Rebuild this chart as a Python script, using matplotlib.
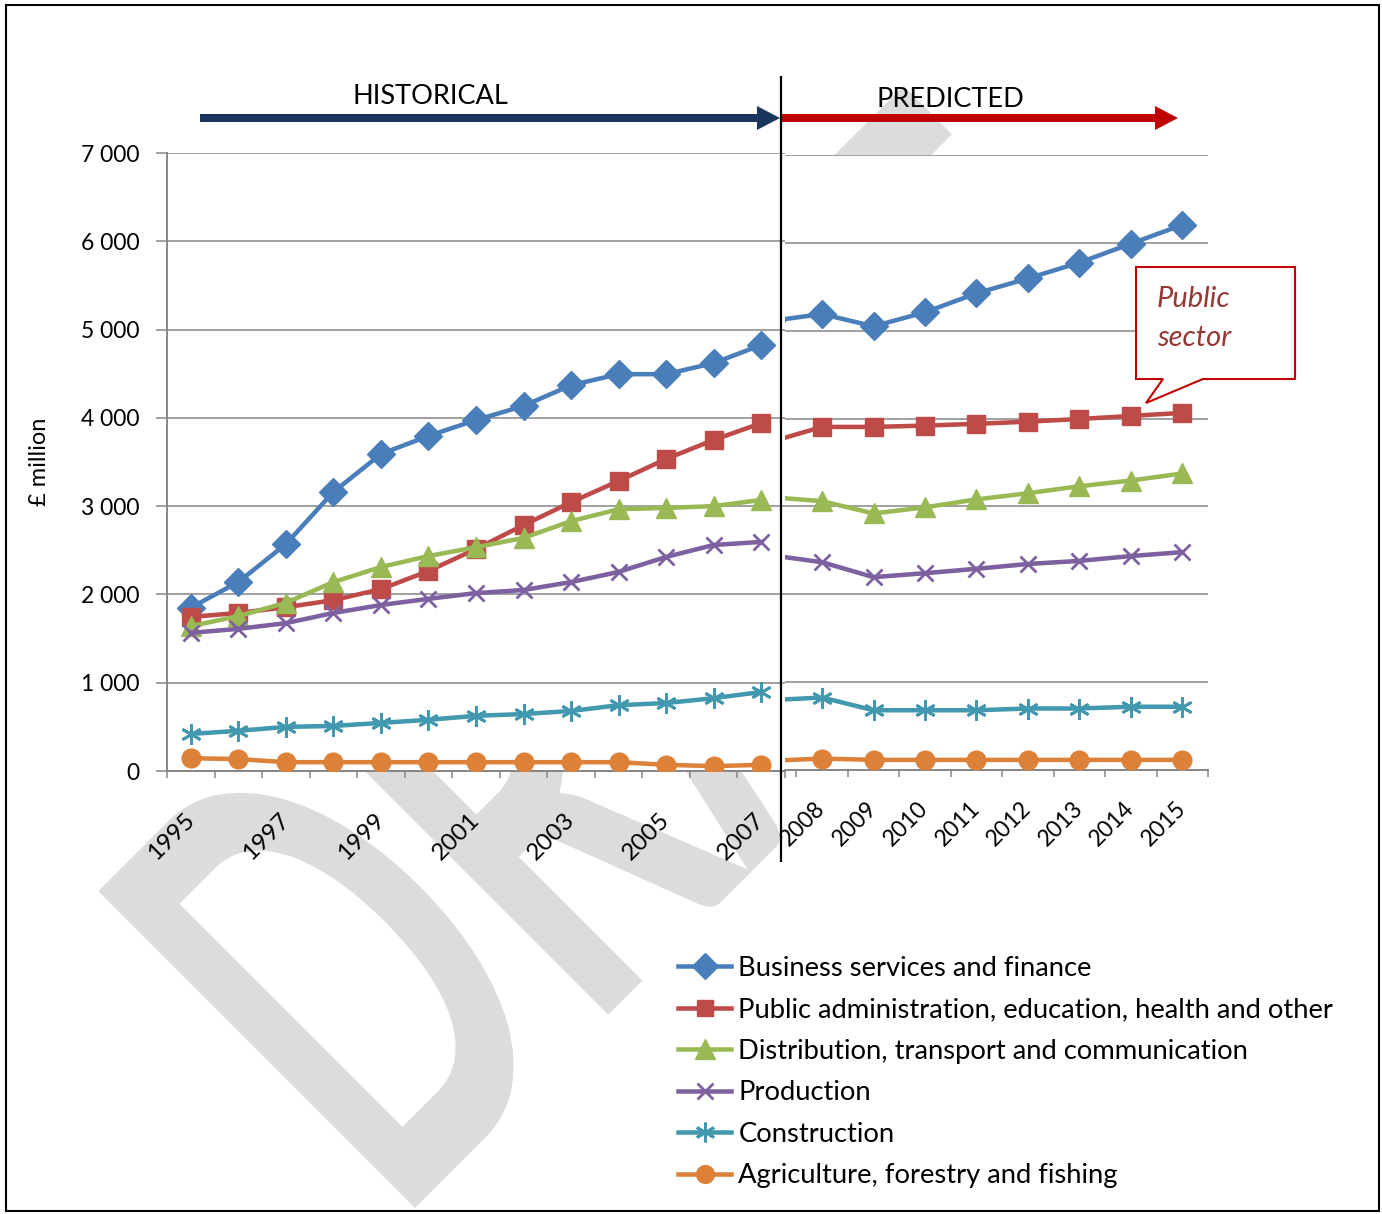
import matplotlib
matplotlib.use('Agg')
import matplotlib.pyplot as plt
from matplotlib.lines import Line2D
from matplotlib.patches import Polygon, PathPatch, FancyArrow, Rectangle
from matplotlib.textpath import TextPath
from matplotlib.font_manager import FontProperties
from matplotlib.transforms import Affine2D

# ---------------- data ----------------
hist_years = [1995, 1996, 1997, 1998, 1999, 2000, 2001, 2002, 2003, 2004, 2005, 2006, 2007]
pred_years = [2007, 2008, 2009, 2010, 2011, 2012, 2013, 2014, 2015]  # 2007 = run-in point at panel edge

series_names = [
    "Business services and finance",
    "Public administration, education, health and other",
    "Distribution, transport and communication",
    "Production",
    "Construction",
    "Agriculture, forestry and fishing",
]

hist_business = [1850, 2140, 2570, 3160, 3590, 3795, 3975, 4135, 4370, 4495, 4495, 4620, 4825]
hist_public = [1745, 1790, 1855, 1935, 2060, 2265, 2515, 2785, 3045, 3285, 3535, 3750, 3940]
hist_distribution = [1640, 1755, 1905, 2140, 2310, 2435, 2535, 2640, 2830, 2965, 2980, 3000, 3070]
hist_production = [1565, 1610, 1675, 1790, 1880, 1950, 2015, 2050, 2140, 2255, 2425, 2560, 2595]
hist_construction = [420, 455, 500, 510, 545, 580, 625, 645, 680, 745, 770, 825, 895]
hist_agriculture = [145, 135, 100, 100, 100, 100, 100, 100, 100, 100, 70, 55, 70]

pred_business = [5110, 5190, 5050, 5210, 5425, 5595, 5775, 5990, 6205]
pred_public = [3735, 3905, 3905, 3920, 3940, 3965, 3995, 4030, 4065]
pred_distribution = [3105, 3060, 2920, 2990, 3080, 3150, 3230, 3295, 3375]
pred_production = [2445, 2365, 2195, 2240, 2290, 2345, 2380, 2435, 2480]
pred_construction = [795, 825, 680, 680, 680, 700, 700, 720, 720]
pred_agriculture = [105, 130, 115, 115, 115, 115, 115, 115, 115]

y_ticks = [0, 1000, 2000, 3000, 4000, 5000, 6000, 7000]
hist_tick_labels = ["1995", "1997", "1999", "2001", "2003", "2005", "2007"]
pred_tick_labels = ["2008", "2009", "2010", "2011", "2012", "2013", "2014", "2015"]

# ---------------- styles ----------------
colors = ['#4A7EBB', '#BE4B48', '#98B954', '#7D60A0', '#4198AF', '#DD8139']
markers = ['D', 's', '^', 'x', (6, 2, 0), 'o']
msizes = [14, 12.5, 15, 12, 15, 13.5]
mews = [1, 1, 1, 2, 2, 1]

W, H = 1382, 1214
FONT = 'Lato'
plt.rcParams['font.family'] = [FONT, 'DejaVu Sans']
GRID = '#868686'

fig = plt.figure(figsize=(W / 100, H / 100), dpi=100)
fig.patch.set_facecolor('white')


def px_axes(x0, y0, x1, y1, **kw):
    return fig.add_axes([x0 / W, 1 - y1 / H, (x1 - x0) / W, (y1 - y0) / H], **kw)


# ---------------- watermark (behind everything) ----------------
ovB = fig.add_axes([0, 0, 1, 1], zorder=-5)
ovB.set_xlim(0, W)
ovB.set_ylim(0, H)
ovB.axis('off')
fp = FontProperties(family=FONT, weight='bold')
probe = TextPath((0, 0), "D", size=100, prop=fp)
cap = probe.get_extents().ymax / 100.0
size = 448 / cap
tp = TextPath((0, 0), "DRAFT", size=size, prop=fp)
xmin = TextPath((0, 0), "D", size=size, prop=fp).get_extents().xmin
tr = Affine2D().translate(-xmin, 0).scale(0.58, 1.0).rotate_deg(45).translate(415, H - 1208)
ovB.add_patch(PathPatch(tr.transform_path(tp), facecolor='#dcdcdc', edgecolor='none'))

# ---------------- panels ----------------
axL = px_axes(167, 153, 785, 771, zorder=1)
axR = px_axes(785, 155, 1208, 770, zorder=1)

hist_data = [hist_business, hist_public, hist_distribution, hist_production, hist_construction, hist_agriculture]
pred_data = [pred_business, pred_public, pred_distribution, pred_production, pred_construction, pred_agriculture]

xL = list(range(len(hist_years)))
xR = list(range(len(pred_years)))

for i in range(len(series_names)):
    kw = dict(color=colors[i], lw=3.25, marker=markers[i], markersize=msizes[i],
              markeredgewidth=mews[i], markeredgecolor=colors[i], markerfacecolor=colors[i],
              solid_joinstyle='round', zorder=3 + i * 0.01)
    axL.plot(xL, hist_data[i], **kw)
    axR.plot(xR, pred_data[i], **kw)

for ax in (axL, axR):
    ax.set_facecolor('white')
    ax.set_ylim(0, 7000)
    ax.set_yticks(y_ticks)
    ax.yaxis.grid(True, color=GRID, lw=1.1)
    ax.set_axisbelow(True)
    for s in ('top', 'right'):
        ax.spines[s].set_visible(False)
    ax.spines['bottom'].set_color(GRID)
    ax.spines['bottom'].set_linewidth(1.4)
    ax.tick_params(axis='x', which='major', length=0)
    ax.tick_params(axis='x', which='minor', length=5, width=1.1, color=GRID, direction='out')

axL.set_xlim(-0.5, len(hist_years) - 0.5)
axL.spines['left'].set_color(GRID)
axL.spines['left'].set_linewidth(1.4)
axL.set_yticklabels([f"{v:,}".replace(',', ' ') for v in y_ticks])
axL.tick_params(axis='y', length=8, width=1.1, color=GRID, direction='out', pad=12, labelsize=16.5)
axL.set_xticks([hist_years.index(int(t)) for t in hist_tick_labels])
axL.set_xticklabels(hist_tick_labels)
axL.set_xticks([k - 0.5 for k in range(len(hist_years) + 1)], minor=True)
axL.tick_params(axis='x', which='major', pad=33, labelsize=17.5)

axR.set_xlim(0.28, len(pred_years) - 0.5)
axR.spines['left'].set_visible(False)
axR.tick_params(axis='y', left=False, labelleft=False)
axR.set_xticks([pred_years.index(int(t)) for t in pred_tick_labels])
axR.set_xticklabels(pred_tick_labels)
axR.set_xticks([k + 0.5 for k in range(len(pred_years))], minor=True)
axR.tick_params(axis='x', which='major', pad=25, labelsize=16.5)

for ax in (axL, axR):
    for lab in ax.get_xticklabels():
        lab.set_rotation(45)
        lab.set_ha('right')
        lab.set_va('center')
        lab.set_rotation_mode('anchor')

fig.text(40 / W, 1 - 462 / H, '£ million', rotation=90, ha='center', va='center', fontsize=17)

# ---------------- legend ----------------
handles = [Line2D([], [], color=colors[i], lw=3.25, marker=markers[i],
                  markersize=msizes[i] * 0.95, markeredgewidth=mews[i],
                  markeredgecolor=colors[i], markerfacecolor=colors[i])
           for i in range(len(series_names))]
fig.legend(handles, series_names, loc='upper left', bbox_to_anchor=(678 / W, 1 - 956 / H),
           frameon=False, fontsize=19.7, handlelength=1.95, handletextpad=0.26,
           labelspacing=0.6, borderpad=0, borderaxespad=0)

# ---------------- foreground decorations ----------------
ovF = fig.add_axes([0, 0, 1, 1], zorder=10)
ovF.set_xlim(0, W)
ovF.set_ylim(H, 0)
ovF.axis('off')

ovF.add_patch(FancyArrow(200, 118, 580, 0, width=8, head_width=24, head_length=23,
                         length_includes_head=True, color='#1B365D', lw=0))
ovF.add_patch(FancyArrow(781, 118, 397, 0, width=8, head_width=24, head_length=23,
                         length_includes_head=True, color='#C00000', lw=0))
ovF.plot([781, 781], [76, 862], color='black', lw=1.6, solid_capstyle='butt')
ovF.text(430, 104, 'HISTORICAL', ha='center', va='baseline', fontsize=19.5)
ovF.text(950, 107, 'PREDICTED', ha='center', va='baseline', fontsize=19.5)

callout = [(1136, 267), (1295, 267), (1295, 379), (1203, 379), (1146, 403), (1163, 379), (1136, 379)]
ovF.add_patch(Polygon(callout, closed=True, facecolor='white', edgecolor='#C00000', lw=1.5))
ovF.text(1157, 307, 'Public', ha='left', va='baseline', fontsize=21, style='italic', color='#953735')
ovF.text(1157, 346, 'sector', ha='left', va='baseline', fontsize=21, style='italic', color='#953735')

ovF.add_patch(Rectangle((6, 5), 1373, 1206, fill=False, edgecolor='black', lw=1.5))

fig.savefig('out.png', dpi=100, facecolor='white')
